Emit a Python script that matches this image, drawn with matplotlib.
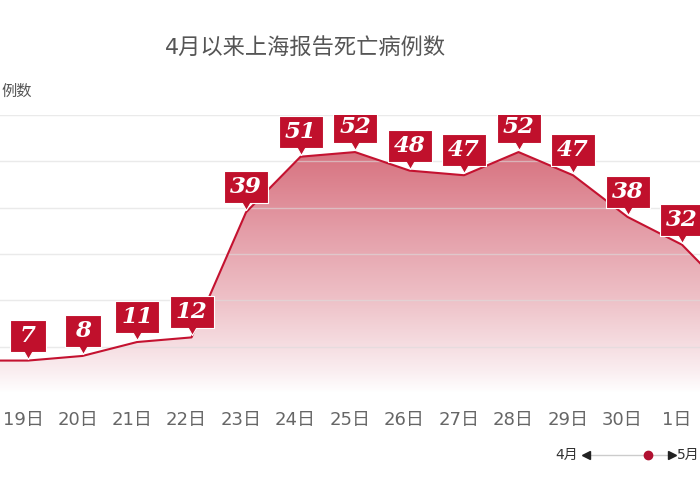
import matplotlib
matplotlib.use('Agg')
import numpy as np
from matplotlib import pyplot as plt
from matplotlib.path import Path
from matplotlib.lines import Line2D
from matplotlib.colors import LinearSegmentedColormap
from matplotlib.transforms import ScaledTranslation

plt.rcParams['font.family'] = ['DejaVu Sans', 'Noto Sans CJK SC']

# data: deaths reported per day (18 Apr .. 2 May)
days = ['18日', '19日', '20日', '21日', '22日', '23日', '24日', '25日',
        '26日', '27日', '28日', '29日', '30日', '1日', '2日']
deaths = [7, 7, 8, 11, 12, 39, 51, 52, 48, 47, 52, 47, 38, 32, 20]

title = '4月以来上海报告死亡病例数'
red = '#c0102c'
line_red = '#c41230'

x = np.arange(len(days))
y = np.array(deaths)

fig = plt.figure(figsize=(7, 5), dpi=100)
ax = fig.add_axes([0, 0.214, 1, 0.556])

# gradient fill under the line
cmap = LinearSegmentedColormap.from_list('fade', [
    (0.0, (1.0, 1.0, 1.0)),
    (0.08, (0.98, 0.93, 0.94)),
    (0.33, (0.935, 0.76, 0.785)),
    (0.58, (0.895, 0.62, 0.66)),
    (0.83, (0.85, 0.47, 0.52)),
    (1.0, (0.82, 0.39, 0.45)),
])
grad = np.linspace(0, 1, 256).reshape(-1, 1)
poly = ax.fill_between(x, y, 0, color='none', lw=0)
im = ax.imshow(grad, cmap=cmap, origin='lower', aspect='auto',
               extent=[x[0], x[-1], 0, 60], zorder=1)
im.set_clip_path(poly.get_paths()[0], transform=ax.transData)
ax.set_xlim(0.486, 13.33)
ax.set_ylim(0, 60)

# grid
for g in range(10, 61, 10):
    ax.axhline(g, color='#dcdcdc', lw=1, alpha=0.6, zorder=2)

ax.plot(x, y, color=line_red, lw=1.5, zorder=3)


def callout(w):
    # box with a small pointer, tip at the origin
    h0, h1 = 9, 41
    verts = [(0, 2), (-4, h0), (-w / 2, h0), (-w / 2, h1), (w / 2, h1),
             (w / 2, h0), (4, h0), (0, 2), (0, 2)]
    codes = [Path.MOVETO] + [Path.LINETO] * 7 + [Path.CLOSEPOLY]
    return Path(verts, codes), 2 * h1


for xi, v in zip(x, y):
    w = 36 if v < 10 else 44
    path, size = callout(w)
    ax.plot([xi], [v], marker=path, markersize=size * 0.72, color=red,
            markeredgecolor='white', markeredgewidth=0.8, zorder=4)
    ax.annotate(str(v), (xi, v), xytext=(0, 25), textcoords='offset pixels',
                ha='center', va='center', color='white', fontsize=16.5,
                fontweight='bold', fontstyle='italic', family='DejaVu Serif',
                zorder=5)

ax.set_xticks(x[1:14])
ax.set_xticklabels(days[1:14])
ax.tick_params(axis='x', length=0, pad=13, labelsize=13, labelcolor='#666666')
for lab in ax.get_xticklabels():
    lab.set_transform(lab.get_transform() + ScaledTranslation(-5 / 100, 0, fig.dpi_scale_trans))
ax.set_yticks([])
for s in ax.spines.values():
    s.set_visible(False)

fig.text(305 / 700, 1 - 48 / 500, title, ha='center', va='center',
         fontsize=16, color='#555555')
fig.text(1 / 700, 1 - 91 / 500, '例数', ha='left', va='center',
         fontsize=11, color='#555555')

# month slider at bottom right
sy = 1 - 455 / 500
dx = -8
fig.text((586 + dx) / 700, sy, '4月', ha='right', va='center', fontsize=10, color='#333333')
fig.text((685 + dx) / 700, sy, '5月', ha='left', va='center', fontsize=10, color='#333333')
fig.add_artist(Line2D([(597 + dx) / 700, (677 + dx) / 700], [sy, sy], color='#cccccc', lw=1,
                      transform=fig.transFigure))
fig.add_artist(Line2D([(594 + dx) / 700], [sy], marker='<', markersize=6, color='#222222',
                      transform=fig.transFigure))
fig.add_artist(Line2D([(680 + dx) / 700], [sy], marker='>', markersize=6, color='#222222',
                      transform=fig.transFigure))
fig.add_artist(Line2D([(656 + dx) / 700], [sy], marker='o', markersize=6, color='#b01030',
                      transform=fig.transFigure))

fig.savefig('out.png', dpi=100)
